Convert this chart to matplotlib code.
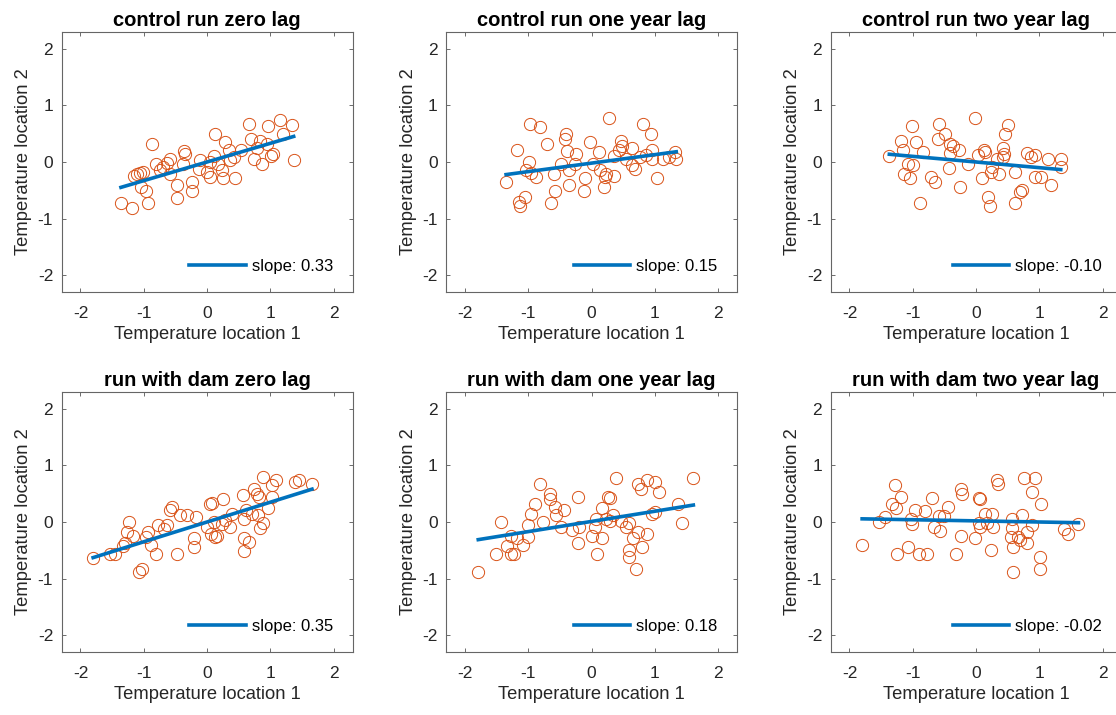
import numpy as np
import matplotlib.pyplot as plt

plt.rcParams['font.family'] = ['Liberation Sans', 'DejaVu Sans']
plt.rcParams['axes.unicode_minus'] = False

titles = ["control run zero lag", "control run one year lag", "control run two year lag",
          "run with dam zero lag", "run with dam one year lag", "run with dam two year lag"]

ctrl0_x = [-1.36, -1.18, -0.94, -1.15, -1.06, -1.01, -1.05, -0.97, -0.87, -0.80, -0.69, -0.64,
           -0.58, -0.58, -0.47, -0.47, -0.37, -0.34, -0.38, -0.24, -0.24, -0.11, 0.00, 0.04,
           0.12, 0.11, 0.18, 0.24, 0.25, 0.29, 0.34, 0.37, 0.45, 0.53, 0.66, 0.69, 0.74, 0.84,
           0.87, 0.95, 0.97, 1.05, 1.16, 1.20, 1.34, 1.37, 1.01, 0.79, 0.42, 0.05, -0.13, -0.74, -1.10]
ctrl0_y = [-0.73, -0.81, -0.72, -0.25, -0.19, -0.18, -0.44, -0.52, 0.31, -0.03, -0.09, -0.02,
           0.06, -0.22, -0.40, -0.64, 0.19, 0.15, -0.03, -0.35, -0.51, 0.03, -0.18, -0.27,
           0.50, 0.10, -0.03, -0.15, -0.28, 0.35, 0.21, 0.03, -0.29, 0.21, 0.67, 0.41, 0.06, 0.38,
           -0.03, 0.32, 0.63, 0.15, 0.75, 0.50, 0.65, 0.03, 0.10, 0.24, 0.09, 0.00, -0.12, -0.15, -0.21]

ctrl1_x = [-1.35, -1.18, -1.13, -1.15, -1.05, -0.99, -1.03, -0.95, -0.87, -0.97, -0.82, -0.70,
           -0.59, -0.57, -0.64, -0.49, -0.40, -0.42, -0.39, -0.36, -0.24, -0.26, -0.35, -0.10,
           -0.12, -0.03, 0.03, 0.12, 0.13, 0.21, 0.23, 0.20, 0.28, 0.36, 0.35, 0.44, 0.47, 0.48,
           0.55, 0.64, 0.64, 0.69, 0.82, 0.94, 0.86, 0.96, 0.96, 1.04, 1.13, 1.22, 1.32, 1.34, 0.76]
ctrl1_y = [-0.35, 0.21, -0.78, -0.71, -0.62, 0.00, -0.15, -0.19, -0.27, 0.67, 0.62, 0.31,
           -0.22, -0.51, -0.72, -0.03, 0.50, 0.41, 0.19, -0.40, 0.15, -0.03, -0.15, -0.29,
           -0.51, 0.35, -0.03, 0.18, -0.15, -0.27, -0.22, -0.44, 0.77, -0.24, 0.10, 0.21, 0.38, 0.29,
           0.06, -0.06, 0.24, -0.12, 0.67, 0.49, 0.12, 0.06, 0.21, -0.29, 0.06, 0.09, 0.18, 0.06, 0.09]

ctrl2_x = [-1.37, -1.18, -1.16, -1.14, -1.04, -1.07, -0.99, -1.01, -0.95, -0.83, -0.88, -0.71,
           -0.65, -0.59, -0.60, -0.49, -0.41, -0.37, -0.41, -0.27, -0.25, -0.43, -0.12, -0.02,
           0.03, 0.12, 0.14, 0.09, 0.19, 0.22, 0.24, 0.25, 0.33, 0.36, 0.43, 0.45, 0.46, 0.50,
           0.43, 0.62, 0.61, 0.69, 0.73, 0.81, 0.87, 0.94, 0.94, 1.03, 1.14, 1.19, 1.34, 1.34]
ctrl2_y = [0.10, 0.38, 0.21, -0.21, -0.29, -0.03, -0.06, 0.63, 0.35, 0.18, -0.73, -0.27,
           -0.35, 0.68, 0.41, 0.50, 0.32, 0.29, 0.16, 0.21, -0.44, -0.10, -0.03, 0.77,
           0.12, 0.21, 0.18, -0.29, -0.62, -0.78, -0.18, -0.09, 0.06, -0.21, 0.24, 0.15, 0.49, 0.65,
           0.09, -0.18, -0.73, -0.53, -0.50, 0.16, 0.09, 0.12, -0.27, -0.27, 0.06, -0.40, 0.06, -0.09]

dam0_x = [-1.80, -1.53, -1.45, -1.33, -1.29, -1.24, -1.26, -1.17, -1.08, -1.03, -0.97, -0.94,
          -0.89, -0.80, -0.78, -0.68, -0.64, -0.55, -0.58, -0.43, -0.48, -0.32, -0.18, -0.21,
          -0.21, 0.05, 0.08, 0.26, 0.00, 0.06, 0.13, 0.16, 0.24, 0.29, 0.37, 0.39, 0.57, 0.61,
          0.59, 0.58, 0.66, 0.58, 0.74, 0.79, 0.82, 0.80, 0.88, 0.89, 0.83, 0.97, 1.03, 1.03,
          1.09, 1.39, 1.46, 1.66, 0.71, 0.11]
dam0_y = [-0.63, -0.57, -0.56, -0.43, -0.38, 0.00, -0.18, -0.25, -0.88, -0.84, -0.27, -0.18,
          -0.41, -0.56, -0.06, -0.12, -0.06, 0.27, 0.21, 0.12, -0.56, 0.12, 0.09, -0.29,
          -0.45, 0.32, 0.34, 0.40, -0.09, -0.21, -0.27, -0.24, -0.03, 0.03, -0.09, 0.15, 0.47, 0.21,
          0.06, -0.28, -0.35, -0.51, 0.59, 0.50, 0.44, 0.12, 0.80, -0.02, -0.10, 0.24, 0.44, 0.65,
          0.75, 0.71, 0.75, 0.67, 0.14, 0.00]

dam1_x = [-1.79, -1.51, -1.43, -1.33, -1.27, -1.23, -1.27, -1.17, -1.08, -1.01, -1.01, -0.95,
          -0.89, -0.82, -0.77, -0.65, -0.66, -0.57, -0.56, -0.43, -0.49, -0.31, -0.19, -0.22,
          -0.22, 0.00, 0.05, 0.07, 0.08, 0.16, 0.16, 0.23, 0.26, 0.29, 0.38, 0.34, 0.30, 0.47,
          0.55, 0.59, 0.65, 0.73, 0.59, 0.60, 0.70, 0.80, 0.74, 0.78, 0.87, 1.01, 1.07, 0.87,
          0.96, 1.01, 1.37, 1.43, 1.61]
dam1_y = [-0.88, -0.56, 0.00, -0.43, -0.57, -0.56, -0.24, -0.29, -0.41, -0.27, -0.06, 0.14,
          0.32, 0.67, 0.00, 0.49, 0.41, 0.27, 0.12, 0.21, -0.09, -0.15, -0.08, 0.44,
          -0.38, -0.25, -0.08, 0.06, -0.56, 0.25, -0.29, 0.06, 0.44, 0.43, 0.78, 0.12, 0.02, 0.02,
          -0.09, -0.02, -0.29, -0.18, -0.50, -0.62, -0.83, -0.45, 0.67, 0.59, 0.75, 0.71, 0.53, -0.22,
          0.15, 0.18, 0.32, -0.02, 0.77]

dam2_x = [-1.80, -1.53, -1.44, -1.28, -1.32, -1.27, -1.18, -1.25, -1.08, -1.02, -1.01, -0.96,
          -0.81, -0.90, -0.78, -0.69, -0.66, -0.59, -0.57, -0.50, -0.44, -0.32, -0.23, -0.22,
          -0.23, -0.01, 0.05, 0.06, 0.06, 0.04, 0.15, 0.18, 0.25, 0.27, 0.24, 0.33, 0.34, 0.57,
          0.57, 0.56, 0.59, 0.59, 0.66, 0.69, 0.73, 0.76, 0.80, 0.80, 0.88, 0.89, 0.94, 1.02,
          1.01, 1.01, 1.39, 1.45, 1.62]
dam2_y = [-0.41, 0.00, 0.08, 0.66, 0.32, 0.25, 0.44, -0.56, -0.44, 0.06, -0.04, 0.21,
          0.19, -0.56, -0.56, 0.43, -0.08, 0.10, -0.16, 0.10, 0.27, -0.57, 0.59, 0.49,
          -0.24, -0.29, 0.43, 0.40, -0.09, -0.02, 0.14, -0.02, 0.15, -0.09, -0.50, 0.74, 0.67, 0.06,
          -0.10, -0.27, -0.45, -0.88, -0.27, -0.31, 0.12, 0.77, -0.18, -0.38, 0.53, -0.06, 0.78, 0.31,
          -0.62, -0.83, -0.12, -0.21, -0.03]

xs = [ctrl0_x, ctrl1_x, ctrl2_x, dam0_x, dam1_x, dam2_x]
ys = [ctrl0_y, ctrl1_y, ctrl2_y, dam0_y, dam1_y, dam2_y]
slopes = [0.33, 0.15, -0.10, 0.35, 0.18, -0.02]
intercepts = [0.0, -0.02, 0.0, 0.0, 0.01, 0.02]

ticks = [-2, -1, 0, 1, 2]
tick_labels = ["-2", "-1", "0", "1", "2"]

fig = plt.figure(figsize=(11.16, 7.15), dpi=100)

W, H = 1116, 715
lefts = [61.5, 446, 830.5]
tops = [32, 392]
aw, ah = 291, 260

for i in range(6):
    r, c = divmod(i, 3)
    ax = fig.add_axes([lefts[c] / W, 1 - (tops[r] + ah) / H, aw / W, ah / H])
    x = np.array(xs[i])
    y = np.array(ys[i])
    ax.plot(x, y, 'o', mfc='none', mec='#D95319', ms=8.8, mew=0.7, zorder=2)
    xl = np.array([x.min(), x.max()])
    line, = ax.plot(xl, slopes[i] * xl + intercepts[i], color='#0072BD', lw=2.6, zorder=3)
    ax.legend([line], ['slope: %.2f' % slopes[i]], loc='lower right', frameon=False,
              fontsize=12, handlelength=3.4, handletextpad=0.35,
              bbox_to_anchor=(0.967, 0.03), borderaxespad=0.2)
    ax.set_xlim(-2.3, 2.3)
    ax.set_ylim(-2.3, 2.3)
    ax.set_xticks(ticks)
    ax.set_xticklabels(tick_labels)
    ax.set_yticks(ticks)
    ax.set_yticklabels(tick_labels)
    ax.tick_params(direction='in', top=True, right=True, length=3, width=0.6,
                   colors='#555555', labelcolor='#262626', labelsize=12.5)
    ax.tick_params(axis='x', pad=10)
    ax.tick_params(axis='y', pad=6)
    for s in ax.spines.values():
        s.set_color('#666666')
        s.set_linewidth(0.8)
    ax.set_title(titles[i], fontsize=14.5, fontweight='bold', pad=4)
    ax.set_xlabel("Temperature location 1", fontsize=13.2, color='#262626', labelpad=4)
    ax.set_ylabel("Temperature location 2", fontsize=13.2, color='#262626', labelpad=4)

fig.savefig("out.png", dpi=100)
